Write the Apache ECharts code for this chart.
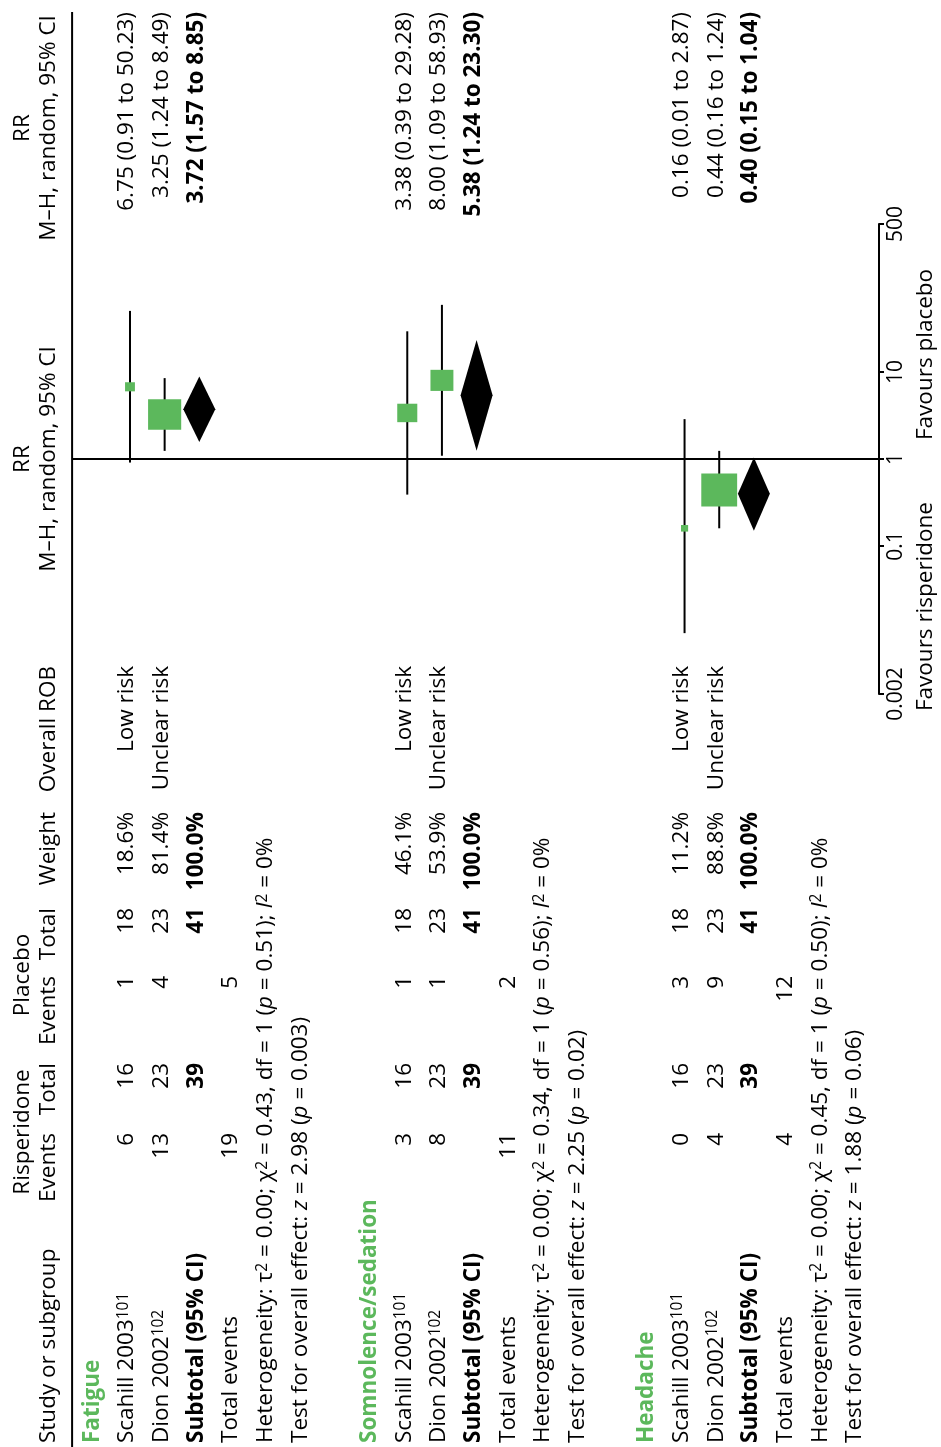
<!DOCTYPE html>
<html>
<head>
<meta charset="utf-8">
<script src="https://cdn.jsdelivr.net/npm/echarts@6/dist/echarts.min.js"></script>
<style>
html,body{margin:0;padding:0;background:#fff;}
#chart{width:941px;height:1447px;}
</style>
</head>
<body>
<div id="chart"></div>
<script>
// ---------------- data ----------------
const groups = ['Fatigue', 'Somnolence/sedation', 'Headache'];
const studies = ['Scahill 2003', 'Dion 2002'];
const studyRefs = ['101', '102'];
const rob = ['Low risk', 'Unclear risk'];
const rispEvents = [[6, 13], [3, 8], [0, 4]];
const rispTotal = [[16, 23], [16, 23], [16, 23]];
const rispSubTotal = [39, 39, 39];
const placEvents = [[1, 4], [1, 1], [3, 9]];
const placTotal = [[18, 23], [18, 23], [18, 23]];
const placSubTotal = [41, 41, 41];
const rispTotalEvents = [19, 11, 4];
const placTotalEvents = [5, 2, 12];
const weights = [[18.6, 81.4], [46.1, 53.9], [11.2, 88.8]];
const rr = [[6.75, 3.25], [3.38, 8.00], [0.16, 0.44]];
const rrLow = [[0.91, 1.24], [0.39, 1.09], [0.01, 0.16]];
const rrHigh = [[50.23, 8.49], [29.28, 58.93], [2.87, 1.24]];
const subRR = [3.72, 5.38, 0.40];
const subLow = [1.57, 1.24, 0.15];
const subHigh = [8.85, 23.30, 1.04];
const tau2 = ['0.00', '0.00', '0.00'];
const chi2 = ['0.43', '0.34', '0.45'];
const dfs = ['1', '1', '1'];
const hetP = ['0.51', '0.56', '0.50'];
const i2 = ['0%', '0%', '0%'];
const zVal = ['2.98', '2.25', '1.88'];
const zP = ['0.003', '0.02', '0.06'];
const tickValues = [0.002, 0.1, 1, 10, 500];
const tickLabels = ['0.002', '0.1', '1', '10', '500'];

// ---------------- layout / style ----------------
const FONT = '"Open Sans", "Noto Sans", sans-serif';
const FS = 22.5;
const GREEN = '#5CB85C';
const TEXT_DX = -3;
const X_MIN = -2, X_MAX = 22.61;
const SEP_ROW = -0.67, HEAD1_ROW = -2, HEAD2_ROW = -1.25, FAV_ROW = 24.05;
const COL_STUDY = 1443, COL_R_EV = 1133, COL_R_TOT = 1063, COL_P_EV = 976,
      COL_P_TOT = 908, COL_W = 812, COL_ROB = 666, COL_RR = 12, RR_HEAD_C = 128,
      RISP_HEAD_C = 1132, PLAC_HEAD_C = 975;
const RICH = {
  sup: {fontFamily: FONT, fontSize: 15.5, verticalAlign: 'top', lineHeight: 8},
  it: {fontFamily: FONT, fontSize: FS, fontStyle: 'italic'}
};
const T = ' ';
function fmt2(v) { return v.toFixed(2); }
function rrText(e, l, h) { return fmt2(e) + ' (' + fmt2(l) + ' to ' + fmt2(h) + ')'; }

// ---------------- build text items ----------------
const texts = [];
function add(row, y, text, align, opt) {
  texts.push(Object.assign({row: row, y: y, text: String(text), align: align}, opt || {}));
}
add(HEAD1_ROW, RISP_HEAD_C, 'Risperidone', 'center');
add(HEAD1_ROW, PLAC_HEAD_C, 'Placebo', 'center');
add(HEAD1_ROW, null, 'RR', 'center');
add(HEAD1_ROW, RR_HEAD_C, 'RR', 'center');
add(HEAD2_ROW, COL_STUDY, 'Study or subgroup', 'left');
add(HEAD2_ROW, COL_R_EV, 'Events', 'right');
add(HEAD2_ROW, COL_R_TOT, 'Total', 'right');
add(HEAD2_ROW, COL_P_EV, 'Events', 'right');
add(HEAD2_ROW, COL_P_TOT, 'Total', 'right');
add(HEAD2_ROW, COL_W, 'Weight', 'right');
add(HEAD2_ROW, COL_ROB, 'Overall ROB', 'right');
add(HEAD2_ROW, null, 'M\u2013H, random, 95% CI', 'center');
add(HEAD2_ROW, RR_HEAD_C, 'M\u2013H, random, 95% CI', 'center');

const ciData = [], sqData = [], dmData = [];
groups.forEach(function (g, gi) {
  const base = gi * 8;
  add(base, COL_STUDY, g, 'left', {bold: true, color: GREEN});
  studies.forEach(function (s, si) {
    const row = base + 1 + si;
    add(row, COL_STUDY, s + '{sup|' + studyRefs[si] + '}', 'left');
    add(row, COL_R_EV, rispEvents[gi][si], 'right');
    add(row, COL_R_TOT, rispTotal[gi][si], 'right');
    add(row, COL_P_EV, placEvents[gi][si], 'right');
    add(row, COL_P_TOT, placTotal[gi][si], 'right');
    add(row, COL_W, weights[gi][si].toFixed(1) + '%', 'right');
    add(row, COL_ROB, rob[si], 'right');
    add(row, COL_RR, rrText(rr[gi][si], rrLow[gi][si], rrHigh[gi][si]), 'right');
    ciData.push([row, rrLow[gi][si], rrHigh[gi][si]]);
    sqData.push([row, rr[gi][si], weights[gi][si]]);
  });
  const sub = base + 3;
  add(sub, COL_STUDY, 'Subtotal (95% CI)', 'left', {bold: true});
  add(sub, COL_R_TOT, rispSubTotal[gi], 'right', {bold: true});
  add(sub, COL_P_TOT, placSubTotal[gi], 'right', {bold: true});
  add(sub, COL_W, '100.0%', 'right', {bold: true});
  add(sub, COL_RR, rrText(subRR[gi], subLow[gi], subHigh[gi]), 'right', {bold: true});
  dmData.push([sub, subRR[gi], subLow[gi], subHigh[gi]]);
  add(base + 4, COL_STUDY, 'Total events', 'left');
  add(base + 4, COL_R_EV, rispTotalEvents[gi], 'right');
  add(base + 4, COL_P_EV, placTotalEvents[gi], 'right');
  add(base + 5, COL_STUDY, 'Heterogeneity: \u03c4{sup|2}' + T + '=' + T + tau2[gi] + '; \u03c7{sup|2}' + T + '=' + T + chi2[gi] +
      ', df' + T + '=' + T + dfs[gi] + ' ({it|p}' + T + '=' + T + hetP[gi] + '); {it|I}{sup|2}' + T + '=' + T + i2[gi], 'left');
  add(base + 6, COL_STUDY, 'Test for overall effect: {it|z}' + T + '=' + T + zVal[gi] + ' ({it|p}' + T + '=' + T + zP[gi] + ')', 'left');
});
add(FAV_ROW, 'fav-', 'Favours placebo', 'left');
add(FAV_ROW, 'fav+', 'Favours risperidone', 'right');

// ---------------- chart ----------------
const chart = echarts.init(document.getElementById('chart'), null, {renderer: 'canvas'});

function textItem(params, api) {
  const t = texts[params.dataIndex];
  const c = api.coord([t.row, 1]);
  let y = t.y;
  if (y === null) y = c[1];
  else if (y === 'fav-') y = c[1] - 19;
  else if (y === 'fav+') y = c[1] + 43;
  return {
    type: 'text', x: c[0] + TEXT_DX, y: y, rotation: Math.PI / 2,
    style: {
      text: t.text, align: t.align, verticalAlign: 'middle',
      fontFamily: FONT, fontSize: FS, fontWeight: t.bold ? 'bold' : 'normal',
      fill: t.color || '#000', rich: RICH
    }
  };
}

const option = {
  animation: false,
  backgroundColor: '#fff',
  grid: {left: 26, right: 62, top: 224, bottom: 753, containLabel: false},
  xAxis: {type: 'value', min: X_MIN, max: X_MAX, show: false},
  yAxis: {
    type: 'log', logBase: 10, min: 0.002, max: 500, position: 'right',
    axisLine: {show: true, onZero: false, lineStyle: {color: '#000', width: 2}},
    axisTick: {show: true, inside: false, length: 5, customValues: tickValues, lineStyle: {color: '#000', width: 2}},
    axisLabel: {
      show: true, customValues: tickValues, rotate: 90, margin: 7,
      fontFamily: FONT, fontSize: 21, color: '#000',
      formatter: function (v) {
        let best = 0, bd = Infinity;
        tickValues.forEach(function (tv, i) {
          const d = Math.abs(Math.log10(v) - Math.log10(tv));
          if (d < bd) { bd = d; best = i; }
        });
        return tickLabels[best];
      }
    },
    splitLine: {show: false}
  },
  series: [
    { // separator + reference line at RR = 1
      type: 'custom', silent: true, data: [[SEP_ROW, 1]],
      renderItem: function (params, api) {
        const a = api.coord([SEP_ROW, 1]);
        const b = api.coord([X_MAX, 1]);
        return {type: 'group', children: [
          {type: 'line', shape: {x1: a[0], y1: 12, x2: a[0], y2: 1447}, style: {stroke: '#000', lineWidth: 2}},
          {type: 'line', shape: {x1: a[0], y1: a[1], x2: b[0], y2: b[1]}, style: {stroke: '#000', lineWidth: 2}}
        ]};
      }
    },
    { // confidence intervals
      type: 'custom', silent: true, data: ciData,
      renderItem: function (params, api) {
        const p1 = api.coord([api.value(0), api.value(1)]);
        const p2 = api.coord([api.value(0), api.value(2)]);
        return {type: 'line', shape: {x1: p1[0], y1: p1[1], x2: p2[0], y2: p2[1]}, style: {stroke: '#000', lineWidth: 2}};
      }
    },
    { // study squares sized by weight
      type: 'custom', silent: true, data: sqData,
      renderItem: function (params, api) {
        const c = api.coord([api.value(0), api.value(1)]);
        const s = 0.37 * api.value(2) + 3;
        const h = s * 0.92;
        return {type: 'rect', shape: {x: c[0] - s / 2, y: c[1] - h / 2, width: s, height: h}, style: {fill: GREEN}};
      }
    },
    { // subtotal diamonds
      type: 'custom', silent: true, data: dmData,
      renderItem: function (params, api) {
        const r = api.value(0);
        const e = api.coord([r, api.value(1)]);
        const lo = api.coord([r, api.value(2)]);
        const hi = api.coord([r, api.value(3)]);
        const hw = 16;
        return {type: 'polygon', shape: {points: [[e[0] - hw, e[1]], [e[0], hi[1]], [e[0] + hw, e[1]], [e[0], lo[1]]]}, style: {fill: '#000'}};
      }
    },
    { // all table text
      type: 'custom', silent: true, data: texts.map(function (t) { return [t.row, 1]; }),
      renderItem: textItem
    }
  ]
};
chart.setOption(option);
</script>
</body>
</html>
